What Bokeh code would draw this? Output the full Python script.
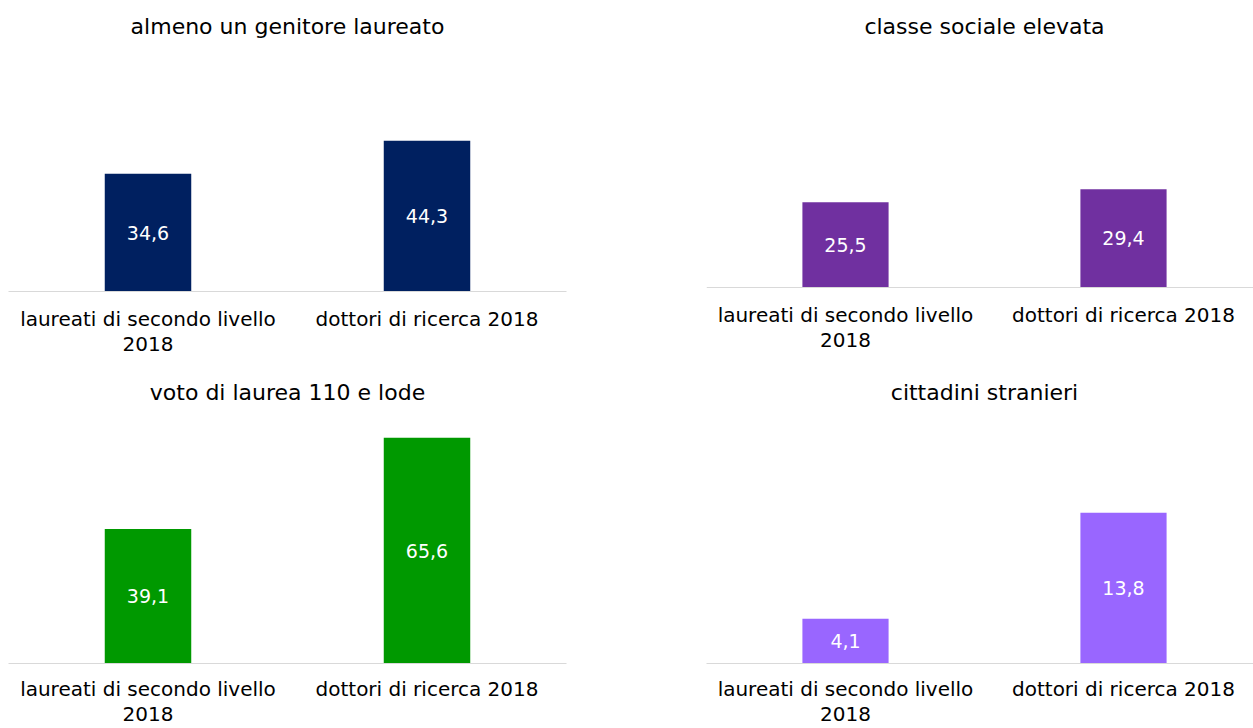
from bokeh.plotting import figure
from bokeh.models import Range1d, FixedTicker, ColumnDataSource, Label, Span
from bokeh.layouts import column, row
from bokeh.core.properties import value
from bokeh.embed import file_html
from bokeh.resources import INLINE

categories = ["laureati di secondo livello\n2018", "dottori di ricerca 2018"]
titles = ["almeno un genitore laureato", "classe sociale elevata",
          "voto di laurea 110 e lode", "cittadini stranieri"]
genitore = [34.6, 44.3]
classe = [25.5, 29.4]
voto = [39.1, 65.6]
stranieri = [4.1, 13.8]
colors = ["#002060", "#7030A0", "#009900", "#9966FF"]

FONT = "DejaVu Sans"
AXIS_GREY = "#d9d9d9"


def panel(title, vals, color, width, height, left_b, right_b, bottom_b,
          x_end, px_per_unit, shift_px, title_px, standoff):
    # shift_px: distance (px) between the frame bottom and the zero baseline
    frame_h = height - bottom_b
    s = px_per_unit
    p = figure(width=width, height=height, output_backend="svg",
               toolbar_location=None,
               x_range=Range1d(0, x_end),
               y_range=Range1d(-shift_px / s, (frame_h - shift_px) / s),
               min_border_left=left_b, min_border_right=right_b,
               min_border_top=0, min_border_bottom=bottom_b)
    xs = [i + 0.5 for i in range(len(vals))]
    src = ColumnDataSource(dict(x=xs, top=vals,
                                mid=[v / 2 for v in vals],
                                lab=[f"{v:.1f}".replace(".", ",") for v in vals]))
    p.vbar(x="x", top="top", bottom=0, width=0.31, source=src,
           fill_color=color, line_color=None)
    p.text(x="x", y="mid", text="lab", source=src, text_color="white",
           text_font=value(FONT), text_font_size="19px",
           text_align="center", text_baseline="middle")
    p.add_layout(Label(x=len(vals) / 2, y=title_px / s, text=title,
                       text_font=FONT, text_font_size="22px", text_color="black",
                       text_align="center", text_baseline="middle"))
    p.yaxis.visible = False
    p.xgrid.visible = False
    p.ygrid.visible = False
    p.outline_line_color = None
    p.background_fill_color = "white"
    p.border_fill_color = "white"
    ax = p.xaxis[0]
    ax.ticker = FixedTicker(ticks=xs)
    ax.major_label_overrides = {x: c for x, c in zip(xs, categories)}
    ax.major_tick_line_color = None
    ax.minor_tick_line_color = None
    if shift_px > 0:
        ax.axis_line_color = None
        p.add_layout(Span(location=0, dimension="width", line_color=AXIS_GREY,
                          line_width=1))
    else:
        ax.axis_line_color = AXIS_GREY
    ax.axis_line_width = 1
    ax.major_label_text_font = FONT
    ax.major_label_text_font_size = "20px"
    ax.major_label_text_color = "black"
    ax.major_label_text_line_height = 1.05
    ax.major_label_standoff = standoff
    return p


LW, RW = 636, 617
TH, BH = 365, 363
TB, BB = 74, 65

tl = panel(titles[0], genitore, colors[0], LW, TH, 8, 70, TB, 2.0, 3.405, 0, 291 - 26, 9)
tr = panel(titles[1], classe, colors[1], RW, TH, 70, 0, TB, 547 / 278, 3.34, 4, 287 - 26, 5)
bl = panel(titles[2], voto, colors[2], LW, BH, 8, 70, BB, 2.0, 3.44, 0, 663 - 392, 7)
br = panel(titles[3], stranieri, colors[3], RW, BH, 70, 0, BB, 547 / 278, 10.93, 0, 663 - 392, 7)

layout = column(row(tl, tr), row(bl, br))
open("out.html", "w").write(file_html(layout, INLINE))
